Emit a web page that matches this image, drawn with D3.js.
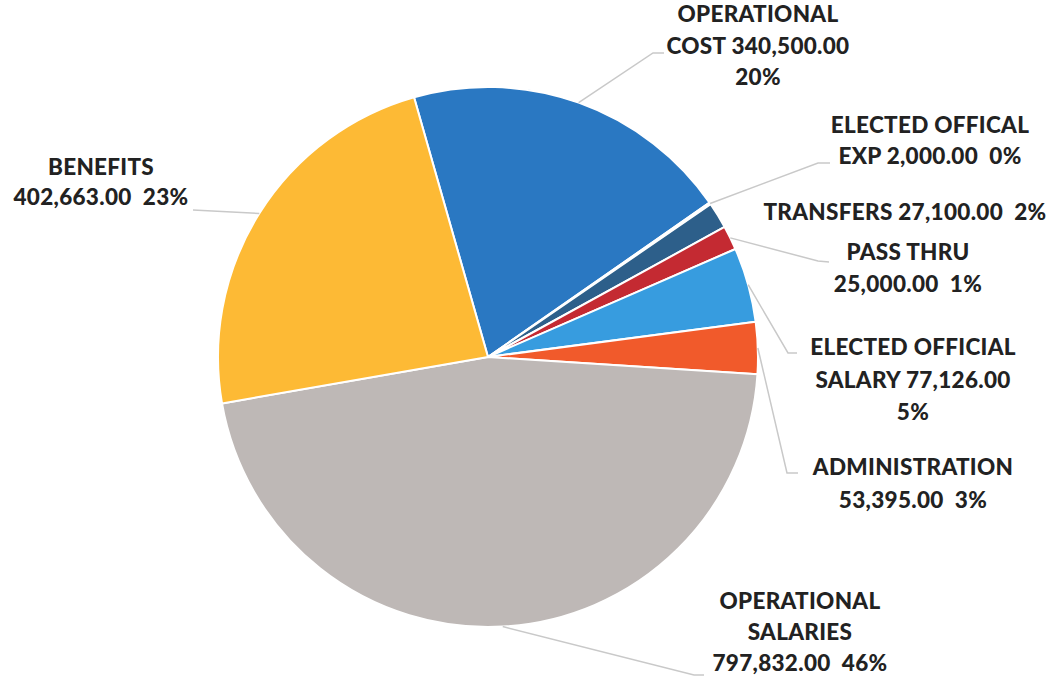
<!DOCTYPE html>
<html>
<head>
<meta charset="utf-8">
<script src="https://cdn.jsdelivr.net/npm/d3@7"></script>
<style>
  body { margin: 0; background: #fff; }
  svg text { font-family: Lato, "Open Sans", sans-serif; font-weight: 900; fill: #222; white-space: pre; letter-spacing: 0.3px; }
</style>
</head>
<body>
<svg id="chart" width="1056" height="683"></svg>
<script>
// Budget breakdown by expense category
const categories = [
  "OPERATIONAL COST", "ELECTED OFFICAL EXP", "TRANSFERS", "PASS THRU",
  "ELECTED OFFICIAL SALARY", "ADMINISTRATION", "OPERATIONAL SALARIES", "BENEFITS"
];
const amounts = [340500, 2000, 27100, 25000, 77126, 53395, 797832, 402663];
const percentLabels = ["20%", "0%", "2%", "1%", "5%", "3%", "46%", "23%"];

const sliceColors = ["#2A78C2", "#EDEDED", "#2D5F8A", "#C42A32", "#379CDF", "#F15A2B", "#BEB8B6", "#FDBA35"];

// Label placement: text lines ({v} = amount, {p} = percent), anchor, and leader route
const labelLayout = [
  { lines: ["OPERATIONAL", "COST {v}", "{p}"], x: 758, y: 22, lh: 31.5, leader: [[653, 53], [664, 53]] },
  { lines: ["ELECTED OFFICAL", "EXP {v}  {p}"], x: 930, y: 133, lh: 31, leader: [[818, 163], [830, 163]] },
  { lines: ["TRANSFERS {v}  {p}"], x: 905, y: 220, lh: 31, leader: null },
  { lines: ["PASS THRU", "{v}  {p}"], x: 908, y: 260, lh: 32, leader: [[818, 261], [829, 262]] },
  { lines: ["ELECTED OFFICIAL", "SALARY {v}", "{p}"], x: 913, y: 355, lh: 32.5, leader: [[788, 353], [797, 353]] },
  { lines: ["ADMINISTRATION", "{v}  {p}"], x: 913, y: 475, lh: 32.5, leader: [[787, 473], [798, 473]] },
  { lines: ["OPERATIONAL", "SALARIES", "{v}  {p}"], x: 800, y: 609, lh: 31, leader: [[694, 675], [704, 675]] },
  { lines: ["BENEFITS", "{v}  {p}"], x: 101, y: 175, lh: 30, leader: [[193, 210]] }
];

const cx = 488, cy = 357, radius = 270;
const fmt = d3.format(",.2f");

const svg = d3.select("#chart");
const g = svg.append("g").attr("transform", `translate(${cx},${cy})`);

const startDeg = -15.9;
const pie = d3.pie().sort(null).value(d => d)
  .startAngle(startDeg * Math.PI / 180)
  .endAngle((startDeg + 360) * Math.PI / 180);
const arcs = pie(amounts);
const arc = d3.arc().innerRadius(0).outerRadius(radius);

g.selectAll("path.slice")
  .data(arcs)
  .join("path")
  .attr("class", "slice")
  .attr("d", arc)
  .attr("fill", (d, i) => sliceColors[i])
  .attr("stroke", "#fff")
  .attr("stroke-width", 2)
  .attr("stroke-linejoin", "round");

// Leader lines from slice edge to the label
const line = d3.line();
arcs.forEach((a, i) => {
  const L = labelLayout[i];
  if (!L.leader) return;
  const mid = (a.startAngle + a.endAngle) / 2;
  const start = [cx + radius * Math.sin(mid), cy - radius * Math.cos(mid)];
  svg.append("path")
    .attr("d", line([start, ...L.leader]))
    .attr("fill", "none")
    .attr("stroke", "#C9C9C9")
    .attr("stroke-width", 1.5);
});

// Data labels
arcs.forEach((a, i) => {
  const L = labelLayout[i];
  const t = svg.append("text")
    .attr("text-anchor", "middle")
    .attr("font-size", 22.5);
  L.lines.forEach((s, k) => {
    const txt = s.replace("{v}", fmt(amounts[i])).replace("{p}", percentLabels[i]);
    t.append("tspan").attr("x", L.x).attr("y", L.y + k * L.lh).text(txt);
  });
});
</script>
</body>
</html>
